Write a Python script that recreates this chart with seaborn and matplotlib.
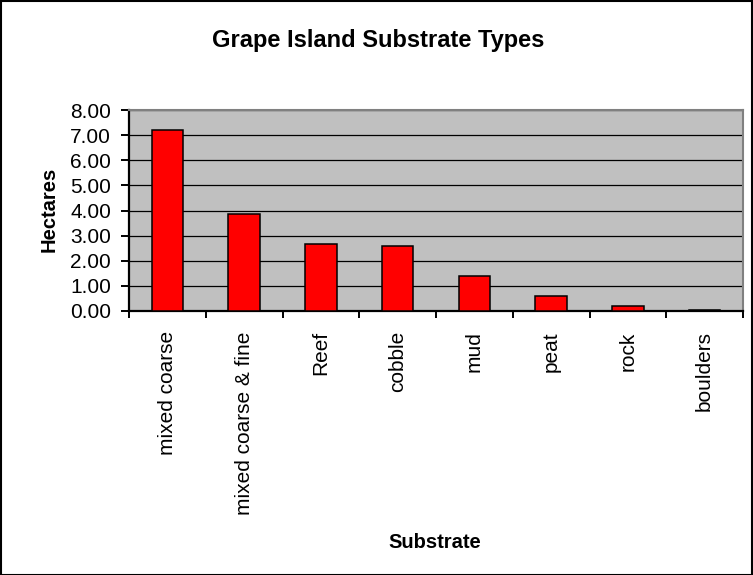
import matplotlib
matplotlib.use("Agg")
import matplotlib.pyplot as plt
import seaborn as sns
import pandas as pd
import numpy as np
from matplotlib.ticker import FixedLocator, NullFormatter

categories = ["mixed coarse", "mixed coarse & fine", "Reef", "cobble", "mud", "peat", "rock", "boulders"]
hectares = [7.19, 3.86, 2.66, 2.58, 1.39, 0.60, 0.20, 0.04]
yticks = [0, 1, 2, 3, 4, 5, 6, 7, 8]
ytick_labels = ["0.00", "1.00", "2.00", "3.00", "4.00", "5.00", "6.00", "7.00", "8.00"]

sns.set_theme(style="white")
plt.rcParams["font.family"] = ["Liberation Sans", "DejaVu Sans"]
plt.rcParams["text.color"] = "black"
plt.rcParams["xtick.color"] = "black"
plt.rcParams["ytick.color"] = "black"
plt.rcParams["xtick.labelcolor"] = "black"
plt.rcParams["ytick.labelcolor"] = "black"

df = pd.DataFrame({"Substrate": categories, "Hectares": hectares})

W, H = 753, 575
L, R, T, B = 129, 743, 110, 311
fig = plt.figure(figsize=(W / 100, H / 100), dpi=100)
ax = fig.add_axes([L / W, 1 - B / H, (R - L) / W, (B - T) / H])
ax.set_facecolor("#C0C0C0")
ax.set_axisbelow(True)

sns.barplot(data=df, x="Substrate", y="Hectares", order=categories, color="#FF0000",
            width=0.41, edgecolor="black", linewidth=1.1, saturation=1, ax=ax, zorder=3)

ax.set_ylim(0, 8)
ax.set_xlim(-0.5, len(categories) - 0.5)
ax.set_yticks(yticks)
ax.set_yticklabels(ytick_labels, fontsize=15, color="black")
ax.yaxis.grid(True, color="black", linewidth=0.9)
ax.xaxis.grid(False)

# category boundary ticks (major), labels at centers (minor)
ax.xaxis.set_major_locator(FixedLocator(np.arange(-0.5, len(categories), 1.0)))
ax.xaxis.set_major_formatter(NullFormatter())
ax.xaxis.set_minor_locator(FixedLocator(np.arange(len(categories))))
ax.set_xticklabels(categories, minor=True, rotation=90, fontsize=15, color="black")
ax.tick_params(axis="x", which="major", direction="out", length=5, width=1.4, color="black", bottom=True)
ax.tick_params(axis="x", which="minor", length=0, pad=14.5)
ax.tick_params(axis="y", direction="out", length=6, width=1.4, color="black", left=True, pad=7)

for s in ["top", "right"]:
    ax.spines[s].set_color("#808080")
    ax.spines[s].set_linewidth(1.5)
for s in ["left", "bottom"]:
    ax.spines[s].set_color("black")
    ax.spines[s].set_linewidth(1.6)

ax.set_xlabel("")
ax.set_ylabel("")
fig.text(49 / W, 1 - 209 / H, "Hectares", ha="center", va="center", rotation=90,
         fontsize=14.5, fontweight="bold", color="black")
fig.text(435 / W, 1 - 542 / H, "Substrate", ha="center", va="center",
         fontsize=14.5, fontweight="bold", color="black")
fig.text(378 / W, 1 - 40 / H, "Grape Island Substrate Types", ha="center", va="center",
         fontsize=17, fontweight="bold", color="black")

fig.patches.append(plt.Rectangle((0.5 / W, 0.5 / H), 1 - 1.5 / W, 1 - 1.5 / H, transform=fig.transFigure,
                                 fill=False, edgecolor="black", linewidth=1.5))

fig.savefig("out.png", dpi=100, facecolor="white")
